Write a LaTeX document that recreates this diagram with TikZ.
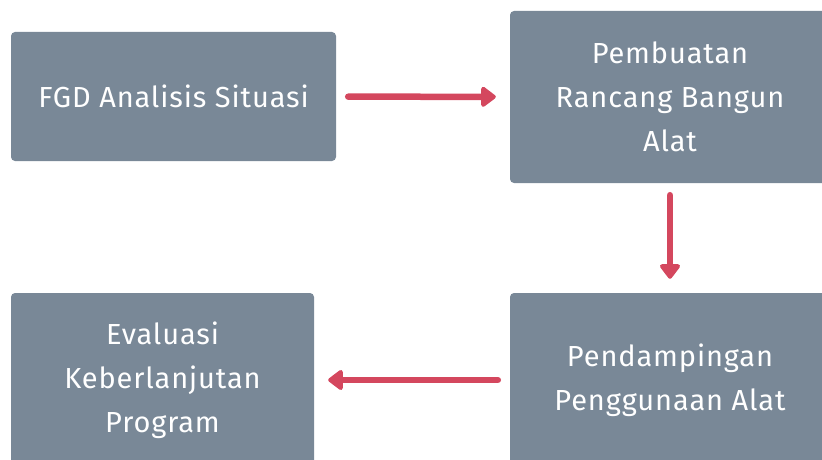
\documentclass[tikz,border=0pt]{standalone}
\usepackage{fontspec}
\setmainfont[LetterSpace=3]{Fira Sans}
\usetikzlibrary{arrows.meta}
\definecolor{boxgray}{HTML}{798897}
\definecolor{arrowred}{HTML}{D4475E}

\begin{document}
\begin{tikzpicture}[x=1pt, y=-1pt,
  box/.style={fill=boxgray, rounded corners=4pt, text=white, align=center,
    inner sep=0pt, font=\fontsize{29}{44}\selectfont},
  arr/.style={draw=arrowred, line width=6.5pt, line cap=round,
    -{Triangle[length=16pt, width=23pt, round]}, shorten <=12pt, shorten >=14pt}]
  \useasboundingbox (0, 0) rectangle (822, 460);
  \node[box, minimum width=325pt, minimum height=129pt] (fgd) at (173.5, 96.5) {FGD Analisis Situasi};
  \node[box, minimum width=320pt, minimum height=172pt] (rancang) at (670, 97) {Pembuatan\\Rancang Bangun\\Alat};
  \node[box, minimum width=320pt, minimum height=174pt] (damping) at (670, 380) {Pendampingan\\Penggunaan Alat};
  \node[box, minimum width=303pt, minimum height=174pt] (evaluasi) at (162.5, 380) {Evaluasi\\Keberlanjutan\\Program};
  \draw[arr] (fgd) -- (rancang);
  \draw[arr] (rancang) -- (damping);
  \draw[arr] (damping) -- (evaluasi);
\end{tikzpicture}
\end{document}
